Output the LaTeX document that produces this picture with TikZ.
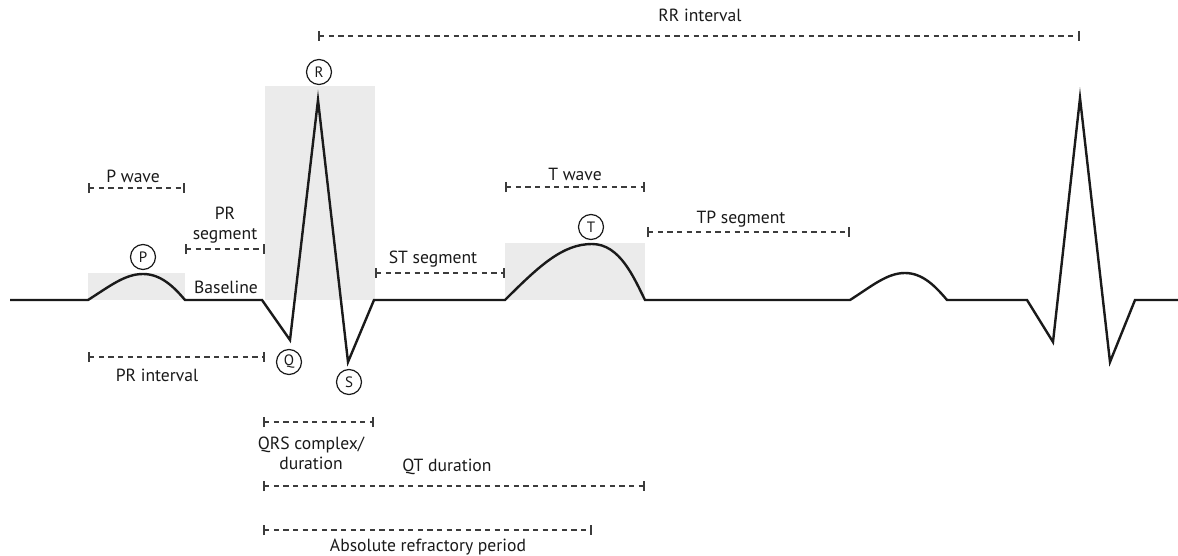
\documentclass[tikz,border=0pt]{standalone}
\usepackage{fontspec}
\setmainfont{PT Sans}
\usetikzlibrary{arrows.meta}
\definecolor{shade}{HTML}{EBEBEB}
\definecolor{ink}{HTML}{1A1A1A}
\begin{document}
\begin{tikzpicture}[x=0.5pt,y=-0.5pt,
  trace/.style={draw=ink,line width=1.2pt,line join=miter},
  box/.style={fill=shade,draw=none},
  span/.style={draw=ink!85,line width=0.55pt,dash pattern=on 2.6pt off 2.2pt,
    {Bar[width=5pt,line width=0.8pt]}-{Bar[width=5pt,line width=0.8pt]}},
  lbl/.style={font=\fontsize{8.8}{10}\selectfont,text=ink,inner sep=0pt,align=center},
  wave/.style={circle,draw=ink,line width=0.6pt,minimum size=12.5pt,inner sep=0pt,font=\fontsize{7.5}{8}\selectfont,text=ink}]
\useasboundingbox (0,0) rectangle (1178,556);
\fill[white] (0,0) rectangle (1178,556);
% shaded boxes
\fill[box] (88,273) rectangle (185,300);
\fill[box] (265,86) rectangle (375,300);
\fill[box] (505,243) rectangle (645,300);
% trace points
\coordinate (s0) at (10,300);
\coordinate (p1) at (88,300);
\coordinate (p2) at (185,300);
\coordinate (q0) at (262,300);
\coordinate (q) at (290,340);
\coordinate (r) at (318,100);
\coordinate (s) at (348,362);
\coordinate (j) at (374,300);
\coordinate (t1) at (505,300);
\coordinate (t2) at (645,300);
\coordinate (pp1) at (850,300);
\coordinate (pp2) at (947,300);
\coordinate (qq0) at (1027,300);
\coordinate (qq) at (1053,342);
\coordinate (rr) at (1080,98);
\coordinate (ss) at (1110,362);
\coordinate (jj) at (1135,300);
\coordinate (e0) at (1178,300);
\draw[trace] (s0) -- (p1) .. controls (110,286) and (125,274) .. (143,274)
  .. controls (161,274) and (174,287) .. (p2) -- (q0) -- (q) -- (r) -- (s) -- (j) -- (t1)
  .. controls (540,265) and (563,244) .. (592,244) .. controls (620,244) and (634,278) .. (t2)
  -- (pp1) .. controls (872,286) and (887,273) .. (905,273) .. controls (923,273) and (936,287) .. (pp2)
  -- (qq0) -- (qq) -- (rr) -- (ss) -- (jj) -- (e0);
% wave letters
\node[wave] (cP) at (143,257) {P};
\node[wave] (cR) at (319,72) {R};
\node[wave] (cQ) at (289,362) {Q};
\node[wave] (cS) at (349,382) {S};
\node[wave] (cT) at (591,227) {T};
% spans
\coordinate (pwA) at (88,188); \coordinate (pwB) at (185,188);
\draw[span] (pwA) -- (pwB);
\node[lbl] (lpw) at (133,176) {P wave};
\coordinate (prsA) at (185,249); \coordinate (prsB) at (265,249);
\draw[span] (prsA) -- (prsB);
\node[lbl] (lprs) at (225,225) {PR\\segment};
\node[lbl] (lbase) at (226,287) {Baseline};
\coordinate (priA) at (88,357); \coordinate (priB) at (265,357);
\draw[span] (priA) -- (priB);
\node[lbl] (lpri) at (157,375) {PR interval};
\coordinate (rrA) at (318,36); \coordinate (rrB) at (1080,36);
\draw[span] (rrA) -- (rrB);
\node[lbl] (lrr) at (700,15) {RR interval};
\coordinate (twA) at (505,187); \coordinate (twB) at (645,187);
\draw[span] (twA) -- (twB);
\node[lbl] (ltw) at (575,174) {T wave};
\coordinate (stA) at (375,273); \coordinate (stB) at (505,273);
\draw[span] (stA) -- (stB);
\node[lbl] (lst) at (433,259) {ST segment};
\coordinate (tpA) at (647,232); \coordinate (tpB) at (850,232);
\draw[span] (tpA) -- (tpB);
\node[lbl] (ltp) at (741,219) {TP segment};
\coordinate (qrsA) at (263,422); \coordinate (qrsB) at (374,422);
\draw[span] (qrsA) -- (qrsB);
\node[lbl] (lqrs) at (311,453) {QRS complex/\\duration};
\coordinate (qtA) at (263,486); \coordinate (qtB) at (645,486);
\draw[span] (qtA) -- (qtB);
\node[lbl] (lqt) at (447,467) {QT duration};
\coordinate (arpA) at (263,530); \coordinate (arpB) at (592,530);
\draw[span] (arpA) -- (arpB);
\node[lbl] (larp) at (428,547) {Absolute refractory period};
\end{tikzpicture}
\end{document}
